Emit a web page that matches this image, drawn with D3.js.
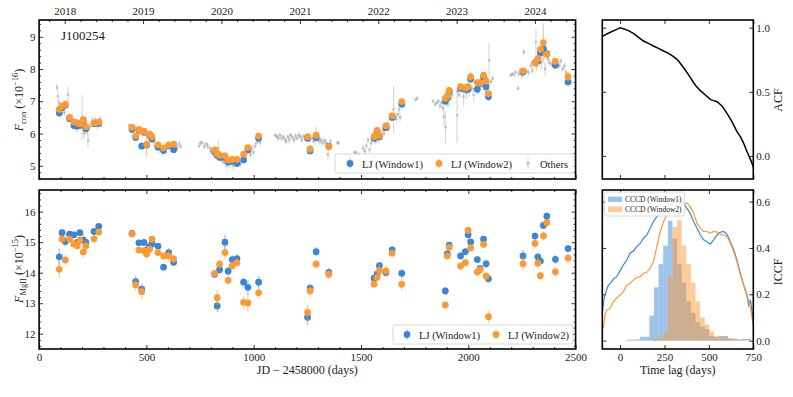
<!DOCTYPE html>
<html><head><meta charset="utf-8">
<script src="https://cdn.jsdelivr.net/npm/d3@7"></script>
<style>
body{margin:0;background:#fff}
svg text{font-family:"Liberation Serif","DejaVu Serif",serif;fill:#222}
</style></head>
<body><svg id="fig" width="793" height="397"></svg>
<script>
// ---- LJ epochs (JD - 2458000) ----
const ljDays = [94,107,122,142,162,178,190,206,218,256,278, 433,450,465,478,489,501,515,526,554,580,604,627,
  818,830,841,866,881,900,922,953,973,1023, 1251,1263,1291,1350, 1561,1575,1586,1616,1645,1690,
  1893,1902,1911,1964,1986,1999,2011,2042,2055,2071,2083,2094, 2255,2311,2324,2336,2350,2366,2406,2465];

// continuum flux (x1e-16)
const conW1 = [6.64,6.80,6.88,6.46,6.25,6.23,6.25,6.38,6.15,6.30,6.31, 6.13,5.88,6.10,5.61,6.04,5.64,5.95,5.83,5.58,5.47,5.62,5.50,
  5.44,5.33,5.26,5.26,5.12,5.14,5.07,5.18,5.49,5.85, 5.85,5.46,5.87,5.61, 5.85,6.05,5.90,6.18,6.50,6.91,
  7.00,7.10,7.30,7.40,7.37,7.37,7.68,7.37,7.55,7.74,7.45,7.14, 7.91,8.20,8.25,8.50,8.63,8.48,8.12,7.60];
const conW2 = [6.75,6.85,6.90,6.50,6.36,6.33,6.30,6.43,6.22,6.33,6.36, 6.19,5.93,6.13,6.06,6.07,5.66,5.98,5.90,5.65,5.55,5.65,5.67,
  5.49,5.38,5.33,5.31,5.18,5.20,5.20,5.36,5.56,5.92, 5.90,5.52,5.95,5.59, 5.90,6.10,5.94,6.24,6.55,6.99,
  7.09,7.16,7.34,7.45,7.42,7.45,7.76,7.58,7.57,7.81,7.62,7.24, 7.94,8.18,8.32,8.61,8.82,8.45,8.24,7.76];
const conE1 = [0.12,0.1,0.1,0.1,0.12,0.1,0.1,0.1,0.15,0.1,0.1, 0.08,0.1,0.08,0.12,0.1,0.1,0.1,0.08,0.08,0.1,0.1,0.1,
  0.1,0.1,0.1,0.1,0.1,0.1,0.1,0.1,0.1,0.08, 0.1,0.12,0.1,0.1, 0.1,0.1,0.1,0.1,0.1,0.1,
  0.1,0.1,0.1,0.1,0.12,0.1,0.1,0.12,0.12,0.1,0.12,0.12, 0.1,0.12,0.1,0.1,0.15,0.1,0.1,0.12];
const conE2 = [0.1,0.1,0.1,0.1,0.1,0.1,0.1,0.12,0.12,0.1,0.1, 0.08,0.1,0.1,0.1,0.1,0.38,0.1,0.1,0.1,0.1,0.1,0.1,
  0.1,0.1,0.1,0.1,0.1,0.1,0.1,0.1,0.1,0.1, 0.1,0.12,0.25,0.1, 0.1,0.12,0.1,0.1,0.1,0.1,
  0.1,0.1,0.12,0.1,0.1,0.12,0.15,0.12,0.15,0.1,0.12,0.12, 0.1,0.12,0.12,0.12,0.6,0.12,0.1,0.15];

// MgII flux (x1e-15)
const mgW1 = [14.52,15.31,15.02,15.26,15.24,14.99,15.31,15.07,14.99,15.35,15.52,
  15.29,13.71,14.98,13.46,14.99,14.75,14.85,14.95,14.87,14.18,14.66,14.34,
  13.95,12.91,14.10,15.00,14.05,14.43,14.46,13.69,13.52,13.69, 12.54,13.49,14.69,14.01,
  13.82,13.95,14.23,14.01,14.75,13.98, 13.40,14.62,14.90,14.55,14.69,15.24,15.01,14.43,14.14,15.10,14.29,13.80,
  14.55,15.20,14.52,14.38,15.55,15.85,14.44,14.79];
const mgW2 = [14.11,15.10,14.42,15.10,14.94,14.88,15.07,14.68,14.88,15.11,15.33,
  15.27,13.60,14.74,13.38,14.72,14.61,14.77,15.10,14.66,14.55,14.55,14.45,
  13.98,13.18,14.28,14.66,13.75,14.23,14.33,13.03,13.01,13.34, 12.70,13.40,14.28,13.95,
  13.63,13.85,14.07,14.06,14.64,13.62, 12.94,14.55,14.83,14.22,14.33,15.39,14.81,14.02,14.10,14.93,13.89,12.56,
  14.29,14.96,14.31,13.90,15.21,15.64,14.03,14.48];
const mgE1 = [0.28,0.12,0.15,0.1,0.1,0.12,0.1,0.2,0.15,0.1,0.1, 0.1,0.2,0.1,0.15,0.1,0.12,0.12,0.1,0.1,0.1,0.15,0.12,
  0.1,0.2,0.15,0.25,0.15,0.15,0.12,0.15,0.25,0.2, 0.25,0.15,0.15,0.15, 0.12,0.12,0.12,0.15,0.12,0.15,
  0.12,0.12,0.1,0.12,0.1,0.12,0.1,0.12,0.12,0.1,0.15,0.12, 0.2,0.12,0.12,0.12,0.12,0.12,0.15,0.12];
const mgE2 = [0.28,0.12,0.15,0.1,0.15,0.12,0.15,0.2,0.2,0.12,0.1, 0.1,0.2,0.1,0.25,0.12,0.15,0.12,0.12,0.12,0.12,0.2,0.15,
  0.1,0.25,0.15,0.2,0.15,0.15,0.15,0.2,0.3,0.2, 0.25,0.2,0.15,0.15, 0.15,0.12,0.2,0.2,0.12,0.2,
  0.12,0.12,0.1,0.12,0.12,0.12,0.12,0.12,0.15,0.12,0.15,0.2, 0.25,0.15,0.2,0.15,0.15,0.12,0.15,0.15];

// other surveys: [day, flux, err]
const others = [
  [84,7.42,0.12],[88,7.15,0.15],[92,6.95,0.1],[98,6.6,0.1],[103,6.72,0.12],[112,6.78,0.1],[118,6.65,0.1],[128,6.95,0.1],
  [135,7.2,0.25],[140,6.55,0.1],[148,6.45,0.12],[155,6.35,0.1],[168,6.3,0.1],[172,6.15,0.12],[183,6.2,0.1],[196,6.35,0.12],
  [200,6.5,0.7],[210,6.0,0.15],[225,6.1,0.15],[228,5.78,0.25],[236,6.2,0.1],[248,6.4,0.1],[262,6.42,0.1],[270,6.25,0.12],
  [284,6.45,0.1],[290,6.3,0.12],
  [420,6.25,0.08],[428,6.05,0.1],[440,6.15,0.1],[445,6.2,0.08],[458,6.0,0.1],[470,6.1,0.08],[482,6.0,0.1],[495,6.05,0.1],
  [508,5.9,0.1],[520,5.85,0.1],[534,5.75,0.1],[540,5.6,0.1],[548,5.55,0.1],[560,5.5,0.1],[566,5.6,0.1],[572,5.45,0.1],
  [590,5.5,0.1],[596,5.6,0.1],[612,5.55,0.1],[618,5.65,0.1],[636,5.6,0.08],[645,5.55,0.1],[652,5.68,0.1],[660,5.6,0.08],
  [745,5.62,0.08],[752,5.7,0.08],[760,5.72,0.08],[770,5.6,0.1],[778,5.68,0.08],[785,5.62,0.1],[795,5.55,0.08],[800,5.45,0.1],
  [808,5.5,0.08],[812,5.35,0.1],[825,5.4,0.1],[835,5.55,0.25],[848,5.2,0.1],[855,5.15,0.1],[862,5.1,0.08],[872,5.15,0.1],
  [876,5.0,0.12],[890,5.05,0.12],[895,5.15,0.1],[905,5.0,0.12],[912,5.1,0.1],[930,5.15,0.1],[938,5.05,0.1],[945,5.25,0.1],
  [960,5.3,0.1],[965,5.4,0.1],[985,5.35,0.12],[990,5.55,0.1],[998,5.42,0.1],[1005,5.6,0.1],[1012,5.7,0.1],[1020,5.8,0.1],
  [1030,5.72,0.12],
  [1100,5.95,0.08],[1108,5.9,0.08],[1115,5.85,0.1],[1122,5.95,0.08],[1130,5.85,0.1],[1138,5.9,0.08],[1145,5.82,0.1],
  [1152,5.75,0.1],[1160,5.9,0.1],[1166,5.8,0.1],[1172,5.95,0.08],[1180,5.88,0.1],[1188,5.8,0.1],[1195,5.92,0.1],
  [1202,5.85,0.08],[1210,5.95,0.1],[1218,5.9,0.1],[1225,5.8,0.1],[1232,5.92,0.08],[1240,5.85,0.1],[1258,5.8,0.1],
  [1272,5.85,0.1],[1280,5.75,0.1],[1300,5.82,0.1],[1308,5.75,0.1],[1315,5.8,0.1],[1322,5.7,0.1],[1330,5.78,0.1],
  [1338,5.72,0.1],[1346,5.35,0.15],[1358,5.75,0.1],[1390,5.72,0.06],[1396,5.7,0.06],
  [1470,5.42,0.06],[1478,5.4,0.06],[1490,5.35,0.06],[1510,5.55,0.1],[1518,5.45,0.1],[1525,5.62,0.1],[1533,5.8,0.1],
  [1540,5.5,0.1],[1548,5.7,0.1],[1555,5.95,0.12],[1568,5.75,0.1],[1580,5.8,0.12],[1595,5.95,0.1],[1602,6.1,0.1],
  [1608,6.0,0.1],[1625,6.3,0.1],[1632,6.2,0.12],[1652,6.75,0.75],[1660,6.55,0.1],[1665,6.45,0.1],[1672,6.6,0.1],
  [1678,6.75,0.1],[1682,6.5,0.12],[1700,6.9,0.1],[1755,7.05,0.06],[1762,7.1,0.06],
  [1835,7.0,0.06],[1845,6.9,0.06],[1852,6.95,0.06],[1860,7.0,0.08],[1868,6.85,0.1],[1875,6.95,0.08],[1882,6.8,0.1],
  [1886,6.52,0.3],[1894,6.19,0.5],[1905,6.9,0.1],[1918,7.1,0.1],[1925,7.2,0.1],[1948,6.57,0.85],[1950,7.3,0.1],
  [1958,7.2,0.1],[1970,7.35,0.1],[1978,7.15,0.3],[1992,7.25,0.2],[2005,7.3,0.15],[2018,7.4,0.1],[2025,7.2,0.2],
  [2035,7.45,0.15],[2048,7.3,0.1],[2062,7.5,0.1],[2078,7.4,0.2],[2088,7.7,0.1],[2097,8.27,0.55],[2105,7.6,0.1],[2113,7.7,0.1],
  [2198,7.8,0.06],[2205,7.85,0.06],[2212,7.82,0.06],[2220,7.9,0.06],[2232,7.4,0.08],[2235,7.85,0.08],[2242,7.95,0.08],
  [2250,7.8,0.1],[2259,8.53,0.1],[2270,7.95,0.1],[2280,7.9,0.1],[2290,8.1,0.1],[2298,7.95,0.1],[2315,8.84,0.4],
  [2318,8.1,0.15],[2330,8.35,0.3],[2342,8.2,0.2],[2358,8.0,0.2],[2372,8.3,0.15],[2380,8.2,0.1],[2390,8.15,0.1],
  [2398,8.3,0.1],[2415,8.2,0.1],[2425,8.1,0.1],[2432,8.25,0.1],[2440,8.0,0.1],[2448,8.1,0.1],[2455,7.9,0.1]
];

// ACF
const acfLag = [-100,-75,-47,-19,0,19,47,75,104,132,160,188,216,245,273,301,320,339,367,395,423,452,480,508,527,546,561,574,602,630,658,677,696,715,734,753];
const acfVal = [0.93,0.951,0.969,0.987,1.0,0.992,0.977,0.956,0.925,0.896,0.878,0.857,0.839,0.818,0.80,0.774,0.753,0.722,0.67,0.613,0.553,0.509,0.475,0.441,0.431,0.423,0.405,0.389,0.332,0.267,0.189,0.15,0.098,0.033,-0.027,-0.097];

// ICCF
const iccfLag1 = [-100,-90,-79,-66,-53,-38,-19,0,19,38,56,75,94,113,132,151,169,188,207,226,245,263,282,301,320,339,357,376,395,414,433,452,470,489,508,527,546,564,583,602,621,640,658,677,696,715,724,734,743,753];
const iccfW1 = [0.118,0.183,0.211,0.24,0.248,0.265,0.276,0.301,0.327,0.348,0.377,0.387,0.406,0.42,0.442,0.456,0.485,0.514,0.535,0.55,0.564,0.574,0.586,0.593,0.60,0.612,0.593,0.571,0.55,0.514,0.485,0.456,0.435,0.427,0.416,0.435,0.456,0.468,0.471,0.459,0.427,0.391,0.348,0.291,0.24,0.19,0.154,0.176,0.125,0.068];
const iccfLag2 = [-94,-85,-75,-56,-38,-19,0,19,38,56,75,94,113,132,151,169,188,207,226,245,263,282,301,320,339,357,376,395,414,433,452,470,489,508,527,546,564,583,602,621,640,658,677,696,715,734,753];
const iccfW2 = [0.053,0.111,0.132,0.14,0.168,0.183,0.197,0.211,0.24,0.248,0.262,0.272,0.276,0.291,0.295,0.312,0.341,0.406,0.47,0.514,0.543,0.56,0.564,0.574,0.583,0.589,0.593,0.578,0.55,0.507,0.485,0.471,0.471,0.464,0.471,0.468,0.459,0.456,0.449,0.42,0.384,0.341,0.284,0.24,0.197,0.14,0.053];

// CCCD histograms (left bin edges, scaled heights)
const histEdges = [35,61,87,113,139,165,191,217,243,269,295,321,347,373,399,425,451,477,503,529,555,581,607,633,659,685,711];
const histW1 = [0.004,0.004,0.006,0.017,0.017,0.108,0.23,0.33,0.41,0.517,0.44,0.33,0.25,0.17,0.12,0.08,0.06,0.05,0.02,0.015,0.02,0.02,0.01,0.005,0.005,0.008,0.008];
const histW2 = [0,0,0,0,0,0.005,0.01,0.015,0.04,0.28,0.49,0.52,0.41,0.33,0.25,0.17,0.1,0.07,0.04,0.02,0.015,0.012,0.01,0.01,0.005,0,0];
const binWidth = 26;

const years = [2018,2019,2020,2021,2022,2023,2024];

const C1 = '#3b87d7', C2 = '#fd9a33', CG = '#a0a0a0';

// JD - 2458000 of a decimal year
function yearDay(y){ const Y=Math.floor(y); const d0=Date.UTC(Y,0,1)/864e5+2440587.5-2458000; return d0+(y-Y)*365.25; }

const svg = d3.select('#fig');

const xT = d3.scaleLinear().domain([0,2500]).range([39.1,575.6]);
const yCon = d3.scaleLinear().domain([4.59,9.52]).range([179,20]);
const yMg = d3.scaleLinear().domain([11.5,16.71]).range([349,190]);
const xLag = d3.scaleLinear().domain([-100,750]).range([602.3,753.3]);
const yAcf = d3.scaleLinear().domain([-0.18,1.06]).range([179,20]);
const yIccf = d3.scaleLinear().domain([-0.036,0.65]).range([349,190]);

// draw one axis (inward ticks, no domain line)
function ax(gen, tr, vals, size, fmt, pad){
  const a = gen.tickValues(vals).tickSizeInner(-size).tickSizeOuter(0).tickPadding(pad||4)
    .tickFormat(fmt || (()=>''));
  const g = svg.append('g').attr('transform', tr).call(a);
  g.select('.domain').remove();
  g.selectAll('line').attr('stroke','#000').attr('stroke-width',0.8);
  g.selectAll('text').attr('font-size',11).attr('fill','#222');
  return g;
}
function rng(a,b,s){ const r=[]; for(let v=a; v<=b+1e-9; v+=s) r.push(+v.toFixed(6)); return r; }
const notInt = v=>Math.abs(v-Math.round(v))>0.01;

function panel(id, x, y){
  const [x0,x1]=x.range(), [y1,y0]=y.range();
  svg.append('clipPath').attr('id',id).append('rect').attr('x',x0).attr('y',y0).attr('width',x1-x0).attr('height',y1-y0);
  return svg.append('g').attr('clip-path',`url(#${id})`);
}
function frame(x,y){
  const [x0,x1]=x.range(), [y1,y0]=y.range();
  svg.append('rect').attr('x',x0).attr('y',y0).attr('width',x1-x0).attr('height',y1-y0)
    .attr('fill','none').attr('stroke','#000').attr('stroke-width',1.6);
}

// ---- main panels: axes ----
const dayMaj = rng(0,2500,500), dayMin = rng(0,2500,100).filter(v=>v%500);
const yrMaj = years.map(yearDay);
const yrMin = rng(2017.6,2024.6,0.2).filter(notInt).map(yearDay).filter(d=>d>0&&d<2500);

// top panel
ax(d3.axisTop(xT),'translate(0,20)',yrMaj,4,(d,i)=>years[i],5);
ax(d3.axisTop(xT),'translate(0,20)',yrMin,2);
ax(d3.axisBottom(xT),'translate(0,179)',dayMaj,4);
ax(d3.axisBottom(xT),'translate(0,179)',dayMin,2);
ax(d3.axisLeft(yCon),'translate(39.1,0)',[5,6,7,8,9],4,d=>d,3.5);
ax(d3.axisLeft(yCon),'translate(39.1,0)',rng(4.6,9.4,0.2).filter(notInt),2);
ax(d3.axisRight(yCon),'translate(575.6,0)',[5,6,7,8,9],4);
ax(d3.axisRight(yCon),'translate(575.6,0)',rng(4.6,9.4,0.2).filter(notInt),2);

// bottom panel
ax(d3.axisTop(xT),'translate(0,190)',dayMaj,4);
ax(d3.axisTop(xT),'translate(0,190)',dayMin,2);
ax(d3.axisBottom(xT),'translate(0,349)',dayMaj,4,d=>d,4);
ax(d3.axisBottom(xT),'translate(0,349)',dayMin,2);
ax(d3.axisLeft(yMg),'translate(39.1,0)',[12,13,14,15,16],4,d=>d,3.5);
ax(d3.axisLeft(yMg),'translate(39.1,0)',rng(11.6,16.6,0.2).filter(notInt),2);
ax(d3.axisRight(yMg),'translate(575.6,0)',[12,13,14,15,16],4);
ax(d3.axisRight(yMg),'translate(575.6,0)',rng(11.6,16.6,0.2).filter(notInt),2);

// ---- data: error-bar series ----
function series(g, days, vals, errs, y, color, r, eop){
  const rows = d3.zip(days, vals, errs);
  const s = g.append('g');
  s.selectAll('line').data(rows).join('line')
    .attr('x1',d=>xT(d[0])).attr('x2',d=>xT(d[0]))
    .attr('y1',d=>y(d[1]-d[2])).attr('y2',d=>y(d[1]+d[2]))
    .attr('stroke',color).attr('stroke-width',1.2).attr('stroke-opacity',eop);
  s.selectAll('circle').data(rows).join('circle')
    .attr('cx',d=>xT(d[0])).attr('cy',d=>y(d[1])).attr('r',r).attr('fill',color);
  return s;
}

const gTop = panel('cTop', xT, yCon);
series(gTop, others.map(d=>d[0]), others.map(d=>d[1]), others.map(d=>d[2]), yCon, CG, 1.4, 0.4)
  .selectAll('circle').attr('fill-opacity',0.55);
series(gTop, ljDays, conW1, conE1, yCon, C1, 3.4, 0.5);
series(gTop, ljDays, conW2, conE2, yCon, C2, 3.4, 0.5);

const gBot = panel('cBot', xT, yMg);
series(gBot, ljDays, mgW1, mgE1, yMg, C1, 3.4, 0.5);
series(gBot, ljDays, mgW2, mgE2, yMg, C2, 3.4, 0.5);

frame(xT,yCon); frame(xT,yMg);

svg.append('text').attr('x',61).attr('y',40).attr('font-size',13).text('J100254');

// legends
function legMark(x,y,color,r){
  svg.append('line').attr('x1',x).attr('x2',x).attr('y1',y-5).attr('y2',y+5).attr('stroke',color).attr('stroke-width',1.2).attr('stroke-opacity',0.6);
  svg.append('circle').attr('cx',x).attr('cy',y).attr('r',r).attr('fill',color);
}
function legBox(x,y,w,h){
  svg.append('rect').attr('x',x).attr('y',y).attr('width',w).attr('height',h).attr('rx',2)
    .attr('fill','#fff').attr('fill-opacity',0.85).attr('stroke','#d0d0d0').attr('stroke-width',0.8);
}
legBox(335,154,239,19);
legMark(350,163.5,C1,3.4); svg.append('text').attr('x',362).attr('y',167.5).attr('font-size',10.5).text('LJ (Window1)');
legMark(439,163.5,C2,3.4); svg.append('text').attr('x',451).attr('y',167.5).attr('font-size',10.5).text('LJ (Window2)');
legMark(528,163.5,'#b8b8b8',1.4); svg.append('text').attr('x',540).attr('y',167.5).attr('font-size',10.5).text('Others');

legBox(393,325,180,19);
legMark(407,334.5,C1,3.4); svg.append('text').attr('x',419).attr('y',338.5).attr('font-size',10.5).text('LJ (Window1)');
legMark(496,334.5,C2,3.4); svg.append('text').attr('x',508).attr('y',338.5).attr('font-size',10.5).text('LJ (Window2)');

// axis labels
function ylab(x,y,sub,exp){
  const t = svg.append('text').attr('transform',`translate(${x},${y}) rotate(-90)`).attr('text-anchor','middle').attr('font-size',12);
  t.append('tspan').attr('font-style','italic').text('F');
  t.append('tspan').attr('font-size',8.5).attr('dy',2.5).text(sub);
  t.append('tspan').attr('dy',-2.5).text(' (\u00d710');
  t.append('tspan').attr('font-size',8.5).attr('dy',-5).text(exp);
  t.append('tspan').attr('dy',5).text(')');
}
ylab(23,100,'con','\u221216');
ylab(23,269,'MgII','\u221215');
svg.append('text').attr('x',307.3).attr('y',374).attr('text-anchor','middle').attr('font-size',12).text('JD \u2212 2458000 (days)');

// ---- ACF panel ----
const lagMaj = [0,250,500,750];
ax(d3.axisBottom(xLag),'translate(0,179)',lagMaj,4);
ax(d3.axisTop(xLag),'translate(0,20)',lagMaj,4);
ax(d3.axisLeft(yAcf),'translate(602.3,0)',[0,0.5,1],4);
ax(d3.axisRight(yAcf),'translate(753.3,0)',[0,0.5,1],4,d3.format('.1f'),3);
const gAcf = panel('cAcf', xLag, yAcf);
gAcf.append('path').datum(d3.zip(acfLag,acfVal))
  .attr('d',d3.line().x(d=>xLag(d[0])).y(d=>yAcf(d[1])))
  .attr('fill','none').attr('stroke','#000').attr('stroke-width',1.5);
frame(xLag,yAcf);
svg.append('text').attr('transform','translate(782,100) rotate(-90)').attr('text-anchor','middle').attr('font-size',12).text('ACF');

// ---- ICCF panel ----
ax(d3.axisBottom(xLag),'translate(0,349)',lagMaj,4,d=>d,4);
ax(d3.axisTop(xLag),'translate(0,190)',lagMaj,4);
ax(d3.axisLeft(yIccf),'translate(602.3,0)',[0,0.2,0.4,0.6],4);
ax(d3.axisRight(yIccf),'translate(753.3,0)',[0,0.2,0.4,0.6],4,d3.format('.1f'),3);
const gIc = panel('cIc', xLag, yIccf);
[[histW1,C1],[histW2,C2]].forEach(([h,c])=>{
  gIc.append('g').selectAll('rect').data(d3.zip(histEdges,h).filter(d=>d[1]>0)).join('rect')
    .attr('x',d=>xLag(d[0])).attr('width',d=>xLag(d[0]+binWidth)-xLag(d[0]))
    .attr('y',d=>yIccf(d[1])).attr('height',d=>yIccf(0)-yIccf(d[1]))
    .attr('fill',c).attr('fill-opacity',0.5);
});
[[iccfLag1,iccfW1,C1],[iccfLag2,iccfW2,C2]].forEach(([l,v,c])=>{
  gIc.append('path').datum(d3.zip(l,v))
    .attr('d',d3.line().x(d=>xLag(d[0])).y(d=>yIccf(d[1])))
    .attr('fill','none').attr('stroke',c).attr('stroke-width',1.2);
});
frame(xLag,yIccf);
legBox(604.5,192,80,24);
svg.append('rect').attr('x',608).attr('y',196.5).attr('width',14).attr('height',5.5).attr('fill',C1).attr('fill-opacity',0.5);
svg.append('text').attr('x',625).attr('y',202).attr('font-size',7.5).text('CCCD (Window1)');
svg.append('rect').attr('x',608).attr('y',206.5).attr('width',14).attr('height',5.5).attr('fill',C2).attr('fill-opacity',0.5);
svg.append('text').attr('x',625).attr('y',212).attr('font-size',7.5).text('CCCD (Window2)');
svg.append('text').attr('transform','translate(782,272) rotate(-90)').attr('text-anchor','middle').attr('font-size',12).text('ICCF');
svg.append('text').attr('x',677.8).attr('y',374).attr('text-anchor','middle').attr('font-size',12).text('Time lag (days)');
</script></body></html>
